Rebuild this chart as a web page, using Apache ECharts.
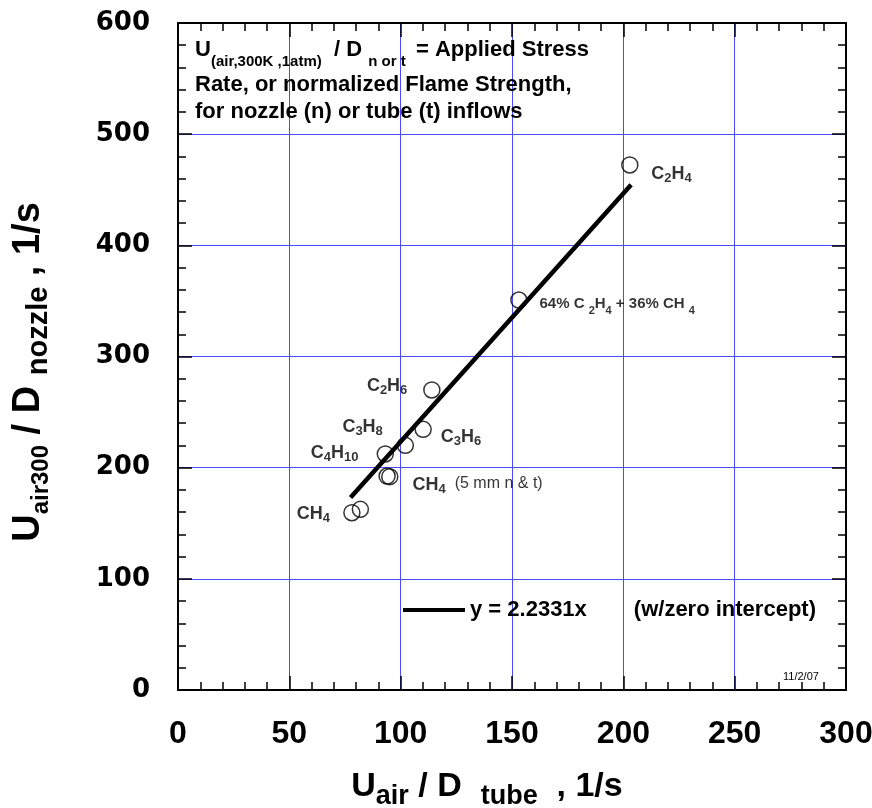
<!DOCTYPE html>
<html>
<head>
<meta charset="utf-8">
<script src="https://cdn.jsdelivr.net/npm/echarts@6/dist/echarts.min.js"></script>
<style>
  html, body { margin: 0; padding: 0; background: #fff; }
  #chart { width: 872px; height: 808px; }
</style>
</head>
<body>
<div id="chart"></div>
<script>
// measured points (x = Uair/Dtube, y = Uair300/Dnozzle)
const pointX = [202.9, 153.1, 114.0, 110.1, 102.1, 93.1, 93.9, 95.1, 78.1, 81.9];
const pointY = [472.3, 350.8, 269.9, 234.5, 220.1, 212.3, 192.5, 191.9, 159.5, 162.5];

// zero-intercept fit line end points
const fitX = [77.5, 203.5];
const fitY = [173.1, 454.4];

// species labels, anchored at left / middle of the text
const labelX = [212.3, 162.1, 84.6, 73.6, 59.4, 117.8, 105.1, 53.1];
const labelY = [465.3, 347.2, 274.4, 237.5, 214.4, 228.5, 185.3, 159.5];
const labelText = [
  '{m|C}{s|2}{m|H}{s|4}',
  '{ms|64% C }{ss|2}{ms|H}{ss|4}{ms| + 36% CH }{ss|4}',
  '{m|C}{s|2}{m|H}{s|6}',
  '{m|C}{s|3}{m|H}{s|8}',
  '{m|C}{s|4}{m|H}{s|10}',
  '{m|C}{s|3}{m|H}{s|6}',
  '{m|CH}{s|4}{n|  (5 mm n & t)}',
  '{m|CH}{s|4}'
];

const xMin = 0, xMax = 300, xStep = 50;
const yMin = 0, yMax = 600, yStep = 100;

const gridBlue = '#4a4aff';

const labelRich = {
  m: { fontSize: 18, fontWeight: 'bold', lineHeight: 18, verticalAlign: 'top', color: '#000' },
  s: { fontSize: 13, fontWeight: 'bold', lineHeight: 20, verticalAlign: 'bottom', color: '#000' },
  ms: { fontSize: 15, fontWeight: 'bold', lineHeight: 16, verticalAlign: 'top', color: '#000' },
  ss: { fontSize: 11, fontWeight: 'bold', lineHeight: 20, verticalAlign: 'bottom', color: '#000' },
  n: { fontSize: 16, fontWeight: 'normal', lineHeight: 18, verticalAlign: 'top', color: '#000' }
};

const chart = echarts.init(document.getElementById('chart'), null, { renderer: 'canvas' });

const frameAxis = (pos) => ({
  type: 'value',
  position: pos,
  axisLine: { show: true, onZero: false, lineStyle: { color: '#000', width: 2 } },
  axisTick: { show: true, inside: true, length: 14, lineStyle: { color: '#000', width: 1.5 } },
  minorTick: { show: true, splitNumber: 5, length: 8, lineStyle: { color: '#000', width: 1.5 } },
  splitLine: { show: false },
  axisLabel: { show: false }
});

const option = {
  backgroundColor: '#fff',
  animation: false,
  textStyle: { fontFamily: 'Liberation Sans, Arial, sans-serif' },
  grid: { left: 178, right: 26, top: 23, bottom: 118, outerBoundsMode: 'none' },
  legend: {
    left: 403,
    top: 599,
    padding: 0,
    itemWidth: 62,
    itemHeight: 4,
    itemGap: 0,
    data: [{ name: 'y = 2.2331x', icon: 'rect' }],
    itemStyle: { color: '#000' },
    lineStyle: { width: 4, color: '#000' },
    formatter: (name) => '{a|' + name + '}{b|(w/zero intercept)}',
    textStyle: {
      rich: {
        a: { fontSize: 22, fontWeight: 'bold', color: '#000' },
        b: { fontSize: 22, fontWeight: 'bold', color: '#000', padding: [0, 0, 0, 47] }
      }
    }
  },
  xAxis: [
    {
      type: 'value',
      min: xMin, max: xMax, interval: xStep,
      position: 'bottom',
      name: '{m|U}{s|air}{m| / D  }{s|tube}{m|  , 1/s}',
      nameLocation: 'middle',
      nameGap: 80,
      nameTextStyle: {
        padding: [0, 50, 0, 0],
        rich: {
          m: { fontSize: 34, fontWeight: 'bold', lineHeight: 36, verticalAlign: 'top', color: '#000' },
          s: { fontSize: 27, fontWeight: 'bold', lineHeight: 40, verticalAlign: 'bottom', color: '#000' }
        }
      },
      axisLine: { show: true, onZero: false, lineStyle: { color: '#000', width: 2 } },
      axisTick: { show: true, inside: true, length: 14, lineStyle: { color: '#000', width: 1.5 } },
      minorTick: { show: true, splitNumber: 5, length: 8, lineStyle: { color: '#000', width: 1.5 } },
      splitLine: { show: true, lineStyle: { color: gridBlue, width: 1 } },
      axisLabel: { margin: 28, fontSize: 32, fontWeight: 'bold', color: '#000', fontFamily: 'Liberation Sans' }
    },
    Object.assign(frameAxis('top'), { min: xMin, max: xMax, interval: xStep })
  ],
  yAxis: [
    {
      type: 'value',
      min: yMin, max: yMax, interval: yStep,
      position: 'left',
      name: '{m|U}{s|air300}{m| / D }{t|nozzle}{m| , 1/s}',
      nameLocation: 'middle',
      nameGap: 125,
      nameTextStyle: {
        padding: [0, 31, 0, 0],
        rich: {
          m: { fontSize: 38, fontWeight: 'bold', lineHeight: 40, verticalAlign: 'top', color: '#000' },
          s: { fontSize: 24, fontWeight: 'bold', lineHeight: 43, verticalAlign: 'bottom', color: '#000' },
          t: { fontSize: 29, fontWeight: 'bold', lineHeight: 43, verticalAlign: 'bottom', color: '#000' }
        }
      },
      axisLine: { show: true, onZero: false, lineStyle: { color: '#000', width: 2 } },
      axisTick: { show: true, inside: true, length: 14, lineStyle: { color: '#000', width: 1.5 } },
      minorTick: { show: true, splitNumber: 5, length: 8, lineStyle: { color: '#000', width: 1.5 } },
      splitLine: { show: true, lineStyle: { color: gridBlue, width: 1 } },
      axisLabel: { margin: 28, fontSize: 26, fontWeight: 'bold', color: '#000', fontFamily: 'DejaVu Sans' }
    },
    Object.assign(frameAxis('right'), { min: yMin, max: yMax, interval: yStep })
  ],
  graphic: [
    {
      type: 'text', left: 195, top: 39, z: 10,
      style: {
        text: '{m|U}{s|(air,300K ,1atm)}{m|  / D }{s|n or t }{m| = Applied Stress}',
        rich: {
          m: { fontSize: 22, fontWeight: 'bold', lineHeight: 24, verticalAlign: 'top', fill: '#000', fontFamily: 'Liberation Sans' },
          s: { fontSize: 15, fontWeight: 'bold', lineHeight: 30, verticalAlign: 'bottom', fill: '#000', fontFamily: 'Liberation Sans' }
        }
      }
    },
    {
      type: 'text', left: 195, top: 74, z: 10,
      style: { text: 'Rate, or normalized Flame Strength,', font: 'bold 22px "Liberation Sans"', fill: '#000' }
    },
    {
      type: 'text', left: 195, top: 101, z: 10,
      style: { text: 'for nozzle (n) or tube (t) inflows', font: 'bold 22px "Liberation Sans"', fill: '#000' }
    },
    {
      type: 'text', left: 783, top: 671, z: 10,
      style: { text: '11/2/07', font: '11px "Liberation Sans"', fill: '#000' }
    }
  ],
  series: [
    {
      name: 'y = 2.2331x',
      type: 'line',
      data: fitX.map((x, i) => [x, fitY[i]]),
      symbol: 'none',
      lineStyle: { color: '#000', width: 4.5 },
      itemStyle: { color: '#000' },
      z: 2
    },
    {
      name: 'points',
      type: 'scatter',
      data: pointX.map((x, i) => [x, pointY[i]]),
      symbol: 'circle',
      symbolSize: 16,
      itemStyle: { color: 'rgba(0,0,0,0)', borderColor: '#000', borderWidth: 1.5 },
      z: 3
    },
    {
      name: 'labels',
      type: 'scatter',
      data: labelX.map((x, i) => ({ value: [x, labelY[i]], label: { formatter: labelText[i] } })),
      symbolSize: 1,
      itemStyle: { color: 'rgba(0,0,0,0)' },
      silent: true,
      label: {
        show: true,
        position: 'right',
        distance: 0,
        offset: [0, 2],
        fontFamily: 'Liberation Sans',
        rich: labelRich
      },
      z: 4
    }
  ]
};

chart.setOption(option);
</script>
</body>
</html>
